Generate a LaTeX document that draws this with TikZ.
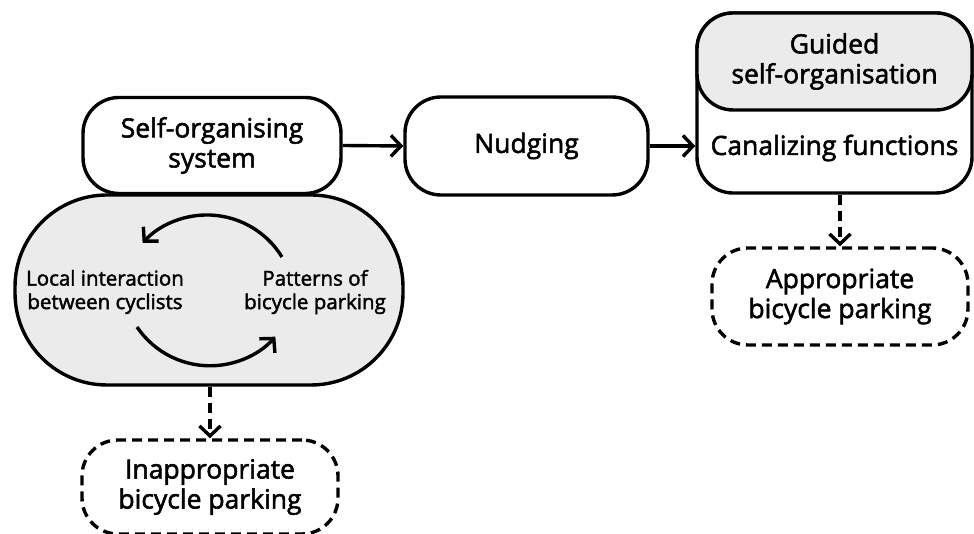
\documentclass[tikz,border=0pt]{standalone}
\usepackage{fontspec}
\setmainfont{Open Sans}
\newfontfamily\semib{Open Sans}[FakeBold=2]
\usetikzlibrary{arrows.meta}
\definecolor{loopgrey}{HTML}{EBEBEB}

\tikzset{
  pill/.style={draw, fill=white, rounded corners=36pt, align=center,
    inner sep=0pt, font=\semib\fontsize{26.5}{30}\selectfont},
  dashpill/.style={pill, dash pattern=on 10pt off 6pt},
  small/.style={align=center, inner sep=0pt, font=\semib\fontsize{20.5}{23.5}\selectfont},
  arr/.style={-{Straight Barb[length=10pt, width=21pt]}},
}

\begin{document}
\begin{tikzpicture}[x=1pt, y=1pt, line width=3.4pt]
\useasboundingbox (0,0) rectangle (974,534);

% self-organising system with its feedback loop
\node[pill, fill=loopgrey, rounded corners=92pt, minimum width=388pt, minimum height=190pt] (loop) at (209,244) {};
\node[pill, minimum width=258pt, minimum height=96pt] (selforg) at (212,388.5) {Self-organising\\system};
\node[small] (local) at (105,242) {Local interaction\\between cyclists};
\node[small] (patterns) at (315,242) {Patterns of\\bicycle parking};
\coordinate (patstart) at (282,277);
\coordinate (locstart) at (137,207);
\draw[arr] (patstart) arc[start angle=31.5, end angle=137, radius=88];
\draw[arr] (locstart) arc[start angle=214, end angle=318, radius=88];

% nudging
\node[pill, minimum width=243pt, minimum height=98pt] (nudging) at (526.5,388) {Nudging};

% guided self-organisation
\node[pill, minimum width=275pt, minimum height=180pt] (guided) at (834.5,431) {};
\node[pill, fill=loopgrey, minimum width=275pt, minimum height=97pt] (guidedtop) at (834.5,472.5) {Guided\\self-organisation};
\node[pill, draw=none, fill=none] (canal) at (834.5,386) {Canalizing functions};

% outcomes
\node[dashpill, minimum width=256pt, minimum height=97pt] (approp) at (840,237.5) {Appropriate\\bicycle parking};
\node[dashpill, minimum width=256pt, minimum height=94pt] (inapprop) at (210,47) {Inappropriate\\bicycle parking};

\draw[arr] (selforg.east) -- (nudging.west);
\draw[arr] (nudging.east) -- (nudging.east -| guided.west);
\draw[arr, dash pattern=on 10pt off 6pt] (approp.north |- guided.south) -- (approp.north);
\draw[arr, dash pattern=on 10pt off 6pt] (inapprop.north |- loop.south) -- (inapprop.north);
\end{tikzpicture}
\end{document}
